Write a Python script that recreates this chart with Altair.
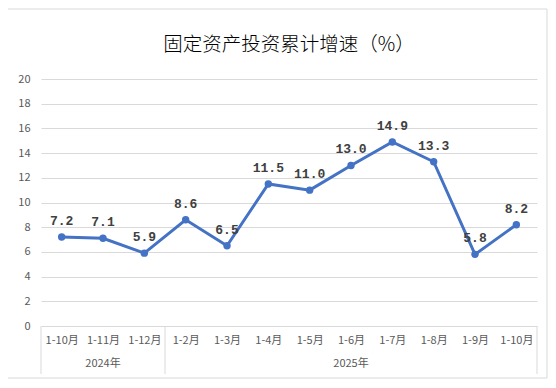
import altair as alt
import pandas as pd

categories = ["1-10月", "1-11月", "1-12月", "1-2月", "1-3月", "1-4月", "1-5月",
              "1-6月", "1-7月", "1-8月", "1-9月", "1-10月"]
values = [7.2, 7.1, 5.9, 8.6, 6.5, 11.5, 11.0, 13.0, 14.9, 13.3, 5.8, 8.2]
groups = ["2024年", "2025年"]
group_members = [[0, 1, 2], [3, 4, 5, 6, 7, 8, 9, 10, 11]]
y_ticks = [0, 2, 4, 6, 8, 10, 12, 14, 16, 18, 20]
title_text = ["固定资产投资累计增速（%）"]

W, H = 496, 247
PAD_L, PAD_T = 33, 71
PAD_R = 540 - PAD_L - W
PAD_B = 372 - PAD_T - H

df = pd.DataFrame({
    "idx": list(range(len(categories))),
    "cat": categories,
    "val": values,
    "lab": [f"{v:.1f}" for v in values],
})

grp_df = pd.DataFrame({
    "group": groups,
    "center": [sum(m) / len(m) for m in group_members],
})
sep_df = pd.DataFrame({"pos": [group_members[0][0] - 0.5,
                               group_members[0][-1] + 0.5,
                               group_members[1][-1] + 0.5]})
title_df = pd.DataFrame({"t": title_text})

cat_js = "[" + ",".join(f"'{c}'" for c in categories) + "]"

xscale = alt.Scale(domain=[-0.5, len(categories) - 0.5], nice=False, zero=False)
yscale = alt.Scale(domain=[0, 20], nice=False)

x_axis = alt.Axis(values=list(range(len(categories))), tickCount=len(categories),
                  labelExpr=f"{cat_js}[datum.value]",
                  title=None, grid=False, ticks=False, domain=False,
                  labelOverlap=False,
                  labelFont="Noto Sans CJK SC", labelFontSize=11,
                  labelColor="#595959", labelPadding=8)
y_axis = alt.Axis(values=y_ticks, tickCount=len(y_ticks), title=None,
                  ticks=False, domain=False, gridColor="#d9d9d9",
                  labelOverlap=False,
                  labelFont="Noto Sans CJK SC", labelFontSize=11,
                  labelColor="#595959", labelPadding=11)

x_enc = alt.X("idx:Q", scale=xscale, axis=x_axis)
y_enc = alt.Y("val:Q", scale=yscale, axis=y_axis)

frame = alt.Chart(title_df).mark_rect(
    fill="white", fillOpacity=0, stroke="#d9d9d9", strokeWidth=1).encode(
    x=alt.value(-PAD_L - 1), x2=alt.value(W + PAD_R - 1),
    y=alt.value(-PAD_T + 1), y2=alt.value(H + PAD_B - 2))

line = alt.Chart(df).mark_line(color="#4472C4", strokeWidth=3).encode(x=x_enc, y=y_enc)
pts = alt.Chart(df).mark_circle(color="#4472C4", size=55, opacity=1).encode(
    x=x_enc, y=y_enc)
labels = alt.Chart(df).mark_text(
    font="Liberation Mono", fontWeight="bold", fontSize=13, color="#404040",
    dy=-16).encode(x=x_enc, y=y_enc, text="lab:N")

seps = alt.Chart(sep_df).mark_rule(color="#d9d9d9", strokeWidth=1).encode(
    x=alt.X("pos:Q", scale=xscale, axis=x_axis), y=alt.value(H), y2=alt.value(H + 48))
glabels = alt.Chart(grp_df).mark_text(
    font="Noto Sans CJK SC", fontSize=11, color="#595959", baseline="middle").encode(
    x=alt.X("center:Q", scale=xscale, axis=x_axis), text="group:N", y=alt.value(H + 38))

title = alt.Chart(title_df).mark_text(
    font="Noto Sans CJK SC", fontSize=19.5, fontWeight=300, color="#000000",
    baseline="middle", align="center").encode(
    text="t:N", x=alt.value(W / 2), y=alt.value(-34))

chart = alt.layer(frame, line, pts, labels, seps, glabels, title).properties(
    width=W, height=H,
    autosize=alt.AutoSizeParams(type="none"),
    padding={"left": PAD_L, "top": PAD_T, "right": PAD_R, "bottom": PAD_B},
).configure_view(stroke=None)

chart.save("out.html", embed_options={"renderer": "svg", "actions": False})
